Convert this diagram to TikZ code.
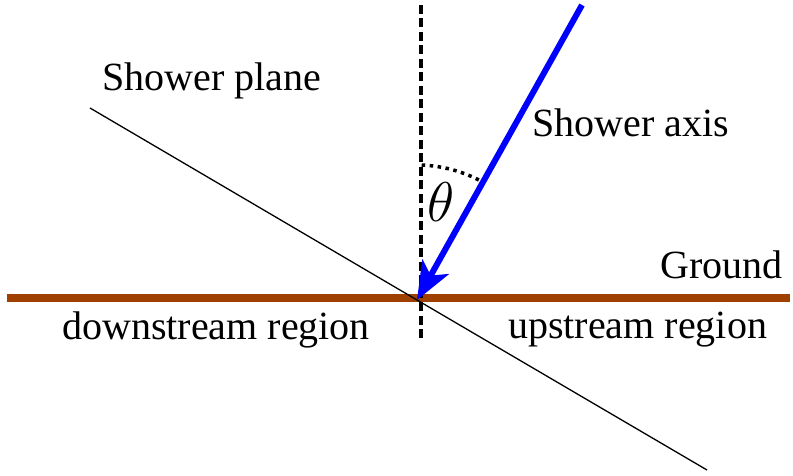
\RequirePackage{fix-cm}
\documentclass[tikz,border=0pt]{standalone}
\usepackage{fontspec}
\setmainfont{Liberation Serif}
\usetikzlibrary{arrows.meta}
\definecolor{groundbrown}{RGB}{160,64,0}

\begin{document}
\begin{tikzpicture}[x=1pt,y=-1pt]
  \useasboundingbox (0,0) rectangle (793,476);
  \tikzset{txt/.style={anchor=base west,inner sep=0pt,font=\fontsize{40}{46}\selectfont}}

  \coordinate (O) at (417,300);
  \coordinate (gl) at (7,298);
  \coordinate (gr) at (790,298);
  \coordinate (vtop) at (421,5);
  \coordinate (vbot) at (421,340);
  \coordinate (pl) at (90,108);
  \coordinate (pr) at (707,470);
  \coordinate (src) at (582,5);

  \draw[groundbrown, line width=8pt] (gl) -- (gr);
  \draw[line width=1.3pt] (pl) -- (O) -- (pr);
  \draw[line width=4pt, dash pattern=on 9pt off 4.5pt] (vtop) -- (vbot);
  \draw[line width=3.5pt, dash pattern=on 3.5pt off 4.5pt] ([shift={(O)}]-88:135) arc[start angle=-88, end angle=-61, radius=135];
  \draw[blue, line width=6pt, -{Stealth[length=38pt,width=30pt,inset=10pt]}] (src) -- (O);

  \node[txt] (plane) at (102,91) {Shower plane};
  \node[txt] (axis) at (532,137) {Shower axis};
  \node[txt] (ground) at (660,278) {Ground};
  \node[txt] (down) at (62,339) {downstream region};
  \node[txt] (up) at (508,338) {upstream region};
  \node[anchor=base west, inner sep=0pt, font=\fontsize{56}{60}\selectfont] (theta) at (427,222) {$\theta$};
\end{tikzpicture}
\end{document}
